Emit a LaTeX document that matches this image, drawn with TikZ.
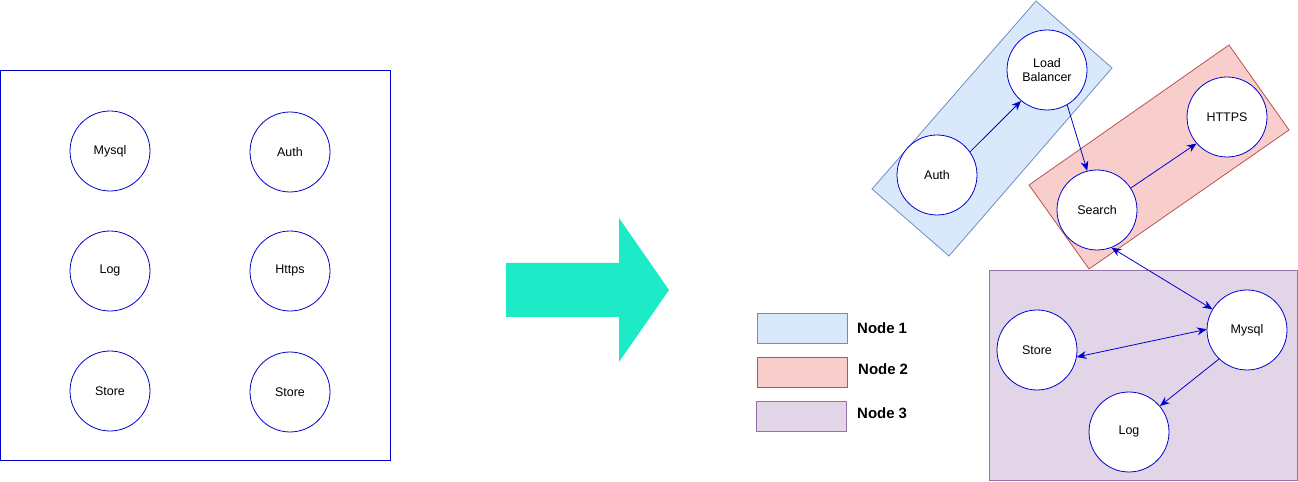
\documentclass[tikz,border=0pt]{standalone}
\usepackage{fontspec}
\setmainfont{Liberation Sans}
\usepackage{tikz}
\usetikzlibrary{arrows.meta,positioning}

\definecolor{lineblue}{RGB}{0,0,204}
\definecolor{teal1}{RGB}{29,235,200}
\definecolor{fill1}{HTML}{DAE8FC}\definecolor{line1}{HTML}{6C8EBF}
\definecolor{fill2}{HTML}{F8CECC}\definecolor{line2}{HTML}{B85450}
\definecolor{fill3}{HTML}{E1D5E7}\definecolor{line3}{HTML}{9673A6}

\begin{document}
\begin{tikzpicture}[x=0.02cm, y=-0.02cm,
  svc/.style={draw=lineblue, fill=white, circle, line width=0.45pt, minimum size=1.6cm, inner sep=0pt, align=center, font=\fontsize{7.1}{8.2}\selectfont},
  lnk/.style={draw=lineblue, line width=0.45pt, -{Stealth[length=5.5pt,width=4.5pt]}},
  dlnk/.style={draw=lineblue, line width=0.45pt, {Stealth[length=5.5pt,width=4.5pt]}-{Stealth[length=5.5pt,width=4.5pt]}},
  key/.style={minimum width=1.8cm, minimum height=0.6cm, line width=0.45pt},
  keytxt/.style={anchor=west, font=\fontsize{8.5}{10}\selectfont\bfseries}]
\useasboundingbox (0,0) rectangle (1298,482);

% before
\draw[lineblue, line width=0.45pt] (0,70) rectangle (390,460);
\node[svc] (m0) at (110,151) {Mysql};
\node[svc] (a0) at (290,152) {Auth};
\node[svc] (l0) at (110,271) {Log};
\node[svc] (h0) at (290,271) {Https};
\node[svc] (s0) at (110,391) {Store};
\node[svc] (t0) at (290,392) {Store};

% big arrow
\fill[teal1] (506,263) -- (619,263) -- (619,218) -- (669,290) -- (619,362) -- (619,317) -- (506,317) -- cycle;

% zones
\draw[fill=fill1, draw=line1, line width=0.45pt] (872,189) -- (1036,1) -- (1112,68) -- (949,256) -- cycle;
\draw[fill=fill2, draw=line2, line width=0.45pt] (1029,185) -- (1229,45) -- (1289,130) -- (1089,269) -- cycle;
\draw[fill=fill3, draw=line3, line width=0.45pt] (989,270) rectangle (1297,480);

% after
\node[svc] (lb) at (1047,70) {Load\\Balancer};
\node[svc] (au) at (937,175) {Auth};
\node[svc] (ht) at (1227,117) {HTTPS};
\node[svc] (se) at (1097,210) {Search};
\node[svc] (my) at (1247,330) {Mysql};
\node[svc] (st) at (1037,350) {Store};
\node[svc] (lg) at (1129,432) {Log};

\draw[lnk] (au.35) -- (lb.230);
\draw[lnk] (lb.-60) -- (se.104);
\draw[lnk] (se.33) -- (ht.221);
\draw[dlnk] (se.-69) -- (my.149);
\draw[dlnk] (st.-10) -- (my.179);
\draw[lnk] (my.226) -- (lg.40);

% legend
\node[key, draw=line1, fill=fill1] (k1) at (802,328) {};
\node[key, draw=line2, fill=fill2] (k2) at (802,372) {};
\node[key, draw=line3, fill=fill3] (k3) at (801,416) {};
\node[keytxt] (n1) at (851,328) {Node 1};
\node[keytxt] (n2) at (852,369) {Node 2};
\node[keytxt] (n3) at (851,413) {Node 3};
\end{tikzpicture}
\end{document}
